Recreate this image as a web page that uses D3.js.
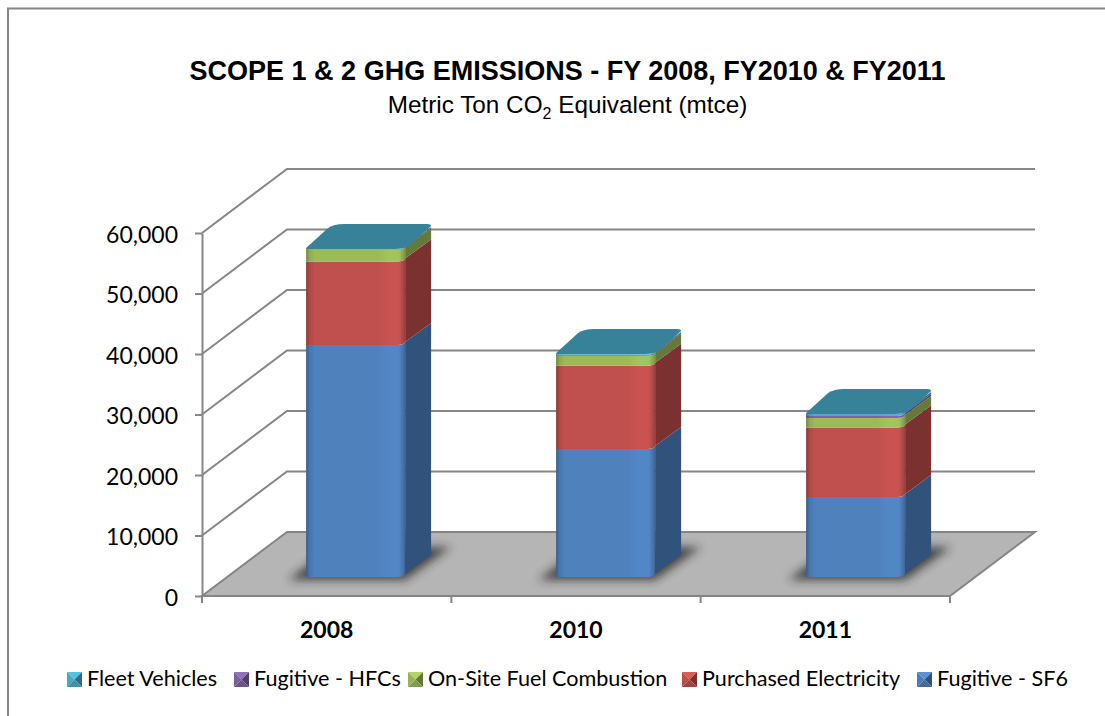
<!DOCTYPE html>
<html lang="en">
    <head>
        <meta charset="utf-8">
        <title>Scope 1 & 2 GHG Emissions</title>
        <script src="https://d3js.org/d3.v7.min.js"></script>
        <style type="text/css">
            html, body { margin: 0; padding: 0; background: #fff; overflow: hidden; }
            svg { display: block; }
            .tick-label { font-family: Lato, sans-serif; fill: #000; }
        </style>
    </head>
    <body>
        <script type="text/javascript">

            //Data
            const years = ["2008", "2010", "2011"];
            const sf6 = [38350, 21150, 13220];
            const electricity = [13800, 13780, 11490];
            const fuel = [1900, 1650, 1570];
            const hfcs = [100, 150, 330];
            const fleet = [70, 120, 330];
            const yTicks = [0, 10000, 20000, 30000, 40000, 50000, 60000];

            //bottom of the stack first
            const seriesNames = ["Fugitive - SF6", "Purchased Electricity", "On-Site Fuel Combustion", "Fugitive - HFCs", "Fleet Vehicles"];
            const seriesValues = [sf6, electricity, fuel, hfcs, fleet];
            const seriesColors = ["#4f81bd", "#c0504d", "#9bbb59", "#8064a2", "#4bacc6"];
            const sideColors = ["#31527a", "#7a3130", "#657a3a", "#52406a", "#2f7186"];
            const topColor = "#378298";

            //declare consts
            const w = 1105;
            const h = 716;
            const depthX = 85; //floor depth
            const depthY = 64;
            const barDepthX = 26;
            const barDepthY = 22;
            const barWidth = 99;
            const barShiftX = 28.6; //bars sit part way back on the floor
            const barShiftY = 19;
            const gridColor = "#868686";

            const x = d3.scaleBand().domain(years).range([202, 950]);
            const xBars = d3.scaleBand().domain(years).range([202, 952]);
            const y = d3.scaleLinear().domain([0, 60000]).range([596, 233]);

            const svg = d3.select("body")
                    .append("svg")
                    .attr("width", w)
                    .attr("height", h);

            //chart frame, only left and top show in the crop
            svg.append("path")
                .attr("d", `M8,${h} V8.5 H${w}`)
                .attr("fill", "none")
                .attr("stroke", gridColor)
                .attr("stroke-width", 2);

            //Title
            svg.append("text")
                .attr("x", 567.5)
                .attr("y", 80)
                .attr("text-anchor", "middle")
                .style("font-family", "'Liberation Sans', sans-serif")
                .style("font-weight", "bold")
                .style("font-size", "27px")
                .text("SCOPE 1 & 2 GHG EMISSIONS - FY 2008, FY2010 & FY2011");

            const sub = svg.append("text")
                .attr("x", 567.5)
                .attr("y", 113)
                .attr("text-anchor", "middle")
                .style("font-family", "'Liberation Sans', sans-serif")
                .style("font-size", "24.3px");
            sub.append("tspan").text("Metric Ton CO");
            sub.append("tspan").attr("dy", 6).style("font-size", "16px").text("2");
            sub.append("tspan").attr("dy", -6).text(" Equivalent (mtce)");

            //defs: bevel gradient for bar fronts and blur for the floor shadow
            const defs = svg.append("defs");
            seriesColors.forEach((c, i) => {
                const g = defs.append("linearGradient").attr("id", "front" + i);
                const base = d3.color(c);
                const stops = [
                    [0, base.darker(0.9)], [0.035, base.darker(0.25)], [0.09, base],
                    [0.72, base], [0.86, base.brighter(0.15)], [0.94, base.brighter(0.1)],
                    [0.98, base.darker(0.35)], [1, base.darker(0.7)]
                ];
                stops.forEach(s => g.append("stop").attr("offset", s[0]).attr("stop-color", s[1]));
            });
            defs.append("filter").attr("id", "blur")
                .attr("x", "-20%").attr("y", "-40%").attr("width", "140%").attr("height", "180%")
                .append("feGaussianBlur").attr("stdDeviation", 5);

            //Floor
            const y0 = y(0);
            svg.append("path")
                .attr("d", `M${x.range()[0]},${y0} L${x.range()[1]},${y0} L${x.range()[1] + depthX},${y0 - depthY} L${x.range()[0] + depthX},${y0 - depthY} Z`)
                .attr("fill", "#b5b5b5")
                .attr("stroke", gridColor)
                .attr("stroke-width", 2);

            //Gridlines: up the side wall then along the back wall
            svg.selectAll("path.grid")
                .data(yTicks.slice(1))
                .enter()
                .append("path")
                .attr("class", "grid")
                .attr("d", d => `M${x.range()[0]},${y(d)} L${x.range()[0] + depthX},${y(d) - depthY} H${x.range()[1] + depthX}`)
                .attr("fill", "none")
                .attr("stroke", gridColor)
                .attr("stroke-width", 2);

            //Axes
            const yAxis = svg.append("g")
                .attr("transform", `translate(${x.range()[0]},0)`)
                .call(d3.axisLeft(y).tickValues(yTicks).tickSize(7).tickSizeOuter(0).tickPadding(17).tickFormat(d3.format(",")));
            yAxis.selectAll("line").attr("stroke", gridColor).attr("stroke-width", 2);
            yAxis.select(".domain").attr("stroke", gridColor).attr("stroke-width", 2);
            yAxis.selectAll("text").attr("class", "tick-label")
                .attr("dy", "0.4em")
                .style("font-size", "23px");

            const xAxis = svg.append("g")
                .attr("transform", `translate(0,${y0})`)
                .call(d3.axisBottom(x).tickSize(0).tickPadding(26));
            xAxis.select(".domain").remove();
            xAxis.selectAll("text").attr("class", "tick-label")
                .style("font-size", "23px")
                .style("font-weight", "bold");

            //category boundary ticks
            svg.selectAll("line.xtick")
                .data([0, 1, 2, 3])
                .enter()
                .append("line")
                .attr("class", "xtick")
                .attr("x1", d => x.range()[0] + d * x.step())
                .attr("x2", d => x.range()[0] + d * x.step())
                .attr("y1", y0)
                .attr("y2", y0 + 7)
                .attr("stroke", gridColor)
                .attr("stroke-width", 2);

            //Bars
            const stacked = years.map((yr, i) => {
                let sum = 0;
                const segs = seriesValues.map((vals, s) => {
                    const seg = { s: s, from: sum, to: sum + vals[i] };
                    sum += vals[i];
                    return seg;
                });
                return { year: yr, segs: segs, total: sum };
            });

            const bars = svg.selectAll("g.bar")
                .data(stacked)
                .enter()
                .append("g")
                .attr("class", "bar")
                .attr("transform", d => `translate(${xBars(d.year) + xBars.bandwidth() / 2 + barShiftX - barWidth / 2},${-barShiftY})`);

            //shadow on the floor
            bars.append("path")
                .attr("d", `M-18,${y0 + 3} H${barWidth} L${barWidth + 46},${y0 - 30} H26 Z`)
                .attr("fill", "#222")
                .attr("opacity", 0.75)
                .attr("filter", "url(#blur)");

            const segs = bars.selectAll("g.seg")
                .data(d => d.segs)
                .enter()
                .append("g")
                .attr("class", "seg");

            //side face
            segs.append("path")
                .attr("fill", d => sideColors[d.s])
                .attr("d", d => {
                    const yb = y(d.from), yt = y(d.to), bw = barWidth;
                    return `M${bw},${yb - 3} L${bw + barDepthX},${yb - barDepthY} V${yt - barDepthY} L${bw},${yt - 3} Z`;
                });

            //front face, corner curves up into the side
            segs.append("path")
                .attr("fill", d => `url(#front${d.s})`)
                .attr("d", d => {
                    const yb = y(d.from), yt = y(d.to), bw = barWidth;
                    return `M0,${yb} H${bw - 8} Q${bw - 1},${yb} ${bw},${yb - 3} V${yt - 3} Q${bw - 1},${yt} ${bw - 8},${yt} H0 Z`;
                });

            //top face with rounded corners
            bars.append("path")
                .attr("fill", topColor)
                .attr("d", d => {
                    const yt = y(d.total), bw = barWidth;
                    return `M0,${yt - 1} L${barDepthX - 4},${yt - 21} Q${barDepthX + 2},${yt - 25} ${barDepthX + 12},${yt - 25}
                            H${bw + barDepthX - 4} Q${bw + barDepthX},${yt - 25} ${bw + barDepthX},${yt - 23}
                            L${bw + 5},${yt - 4} Q${bw},${yt} ${bw - 10},${yt} H0 Z`;
                });

            //Legend, reading order is reversed from the stack
            const legendX = [67, 234, 408, 682, 917];
            const legendNames = seriesNames.slice().reverse();
            const legendColors = seriesColors.slice().reverse();
            const swatch = 15;

            const legend = svg.selectAll("g.legend")
                .data(legendNames)
                .enter()
                .append("g")
                .attr("class", "legend")
                .attr("transform", (d, i) => `translate(${legendX[i]},672)`);

            //pyramid swatch, four triangles
            const c = swatch / 2;
            const tris = [
                { p: `0,0 ${swatch},0 ${c},${c}`, k: 0.35 },
                { p: `0,0 0,${swatch} ${c},${c}`, k: -0.1 },
                { p: `${swatch},0 ${swatch},${swatch} ${c},${c}`, k: -1.3 },
                { p: `0,${swatch} ${swatch},${swatch} ${c},${c}`, k: -0.5 }
            ];
            legend.each(function(d, i) {
                const base = d3.color(legendColors[i]);
                d3.select(this).selectAll("polygon")
                    .data(tris)
                    .enter()
                    .append("polygon")
                    .attr("points", t => t.p)
                    .attr("fill", t => t.k > 0 ? base.brighter(t.k) : base.darker(-t.k));
            });

            legend.append("text")
                .attr("class", "tick-label")
                .attr("x", swatch + 5)
                .attr("y", 14)
                .style("font-size", "21.6px")
                .text(d => d);

        </script>
    </body>
</html>
